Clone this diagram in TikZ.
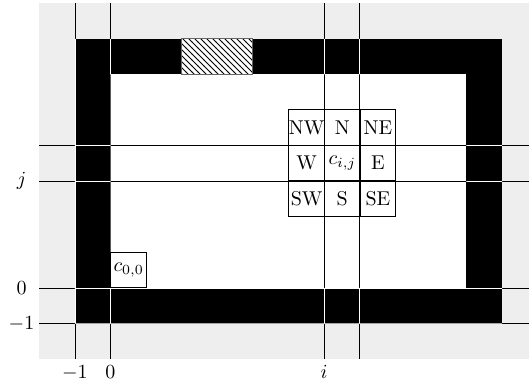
\documentclass[tikz,border=0pt]{standalone}
\usetikzlibrary{patterns}
\definecolor{bggray}{RGB}{238,238,238}
\begin{document}
\begin{tikzpicture}[x=17.8pt,y=17.8pt,
  gridline/.style={line width=0.4pt},
  cellbox/.style={draw, line width=0.4pt, minimum width=17.8pt, minimum height=17.8pt, inner sep=0pt, anchor=south west},
  axlabel/.style={inner sep=2pt}]
\useasboundingbox (-3.104,-2.865) rectangle (11.756,8.09);
% background
\fill[bggray] (-2,-2) rectangle (11.8,8);
% frame
\fill[black] (-1,-1) rectangle (11,7);
\fill[white] (0,0) rectangle (10,6);
% hatched block
\fill[white] (2,6) rectangle (4,7);
\fill[pattern=north west lines] (2,6) rectangle (4,7);
\draw[black!60, line width=0.4pt] (2,6) rectangle (4,7);
% grid lines
\foreach \u in {-1,0,6,7} {\draw[gridline] (\u,-2) -- (\u,8);}
\foreach \v in {-1,0,3,4} {\draw[gridline] (-2,\v) -- (11.8,\v);}
% white lines where they cross the black frame
\begin{scope}[even odd rule]
\clip (-1,-1) rectangle (11,7) (0,0) rectangle (10,6) (2,6) rectangle (4,7);
\foreach \u in {-1,0,6,7} {\draw[gridline, white] (\u,-2) -- (\u,8);}
\foreach \v in {-1,0,3,4} {\draw[gridline, white] (-2,\v) -- (11.8,\v);}
\end{scope}
% neighbourhood cells
\node[cellbox] (nw) at (5,4) {NW};
\node[cellbox] (n) at (6,4) {N};
\node[cellbox] (ne) at (7,4) {NE};
\node[cellbox] (w) at (5,3) {W};
\node[cellbox] (c) at (6,3) {$c_{i,j}$};
\node[cellbox] (e) at (7,3) {E};
\node[cellbox] (sw) at (5,2) {SW};
\node[cellbox] (s) at (6,2) {S};
\node[cellbox] (se) at (7,2) {SE};
% origin cell
\node[cellbox] (c00) at (0,0) {$c_{0,0}$};
% axis labels
\node[axlabel] (ym1) at (-2.5,-1) {$-1$};
\node[axlabel] (y0) at (-2.5,0) {$0$};
\node[axlabel] (yj) at (-2.5,3) {$j$};
\node[axlabel, anchor=north, inner sep=3pt] (xm1) at (-1,-2) {$-1$};
\node[axlabel, anchor=north, inner sep=3pt] (x0) at (0,-2) {$0$};
\node[axlabel, anchor=north, inner sep=3pt] (xi) at (6,-2) {$i$};
\end{tikzpicture}
\end{document}
